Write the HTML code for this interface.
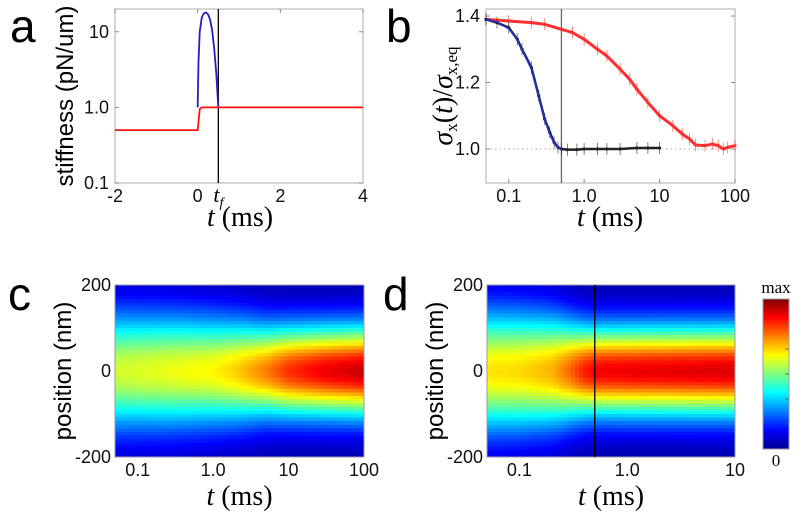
<!DOCTYPE html>
<html><head><meta charset="utf-8"><style>
html,body{margin:0;padding:0;background:#fff;}
svg{display:block;font-family:"Liberation Sans",Arial,sans-serif;}
.tk{font-size:18px;fill:#111;}
.pl{font-size:46px;fill:#000;}
.ser{font-family:"Liberation Serif",serif;}
</style></head><body>
<svg id="fig" width="800" height="518" viewBox="0 0 800 518">
<defs>
<linearGradient id="jetg" x1="0" y1="1" x2="0" y2="0">
<stop offset="0" stop-color="#00008f"/><stop offset="0.125" stop-color="#0000ff"/><stop offset="0.375" stop-color="#00ffff"/><stop offset="0.625" stop-color="#ffff00"/><stop offset="0.875" stop-color="#ff0000"/><stop offset="1" stop-color="#800000"/>
</linearGradient>
</defs>
<g id="pa"></g>
<g id="pb"></g>
<g id="pc"></g>
<g id="pd"></g>
<text class="pl" x="10" y="42">a</text>
<text class="pl" x="386" y="42">b</text>
<text class="pl" x="8" y="310">c</text>
<text class="pl" x="383" y="310">d</text>
</svg>
<script>
// Panel a data
const aRedT=[-2,0,0.05,0.1,0.5,4];
const aRedV=[0.5,0.5,0.95,1.0,1.0,1.0];
const aBlueT=[0,0.02,0.05,0.1,0.15,0.2,0.25,0.3,0.35,0.4,0.45,0.5];
const aBlueV=[1.0,4,10,15.5,17.5,18,17,14.5,10.5,6,2.8,1.0];
const aXTicks=[-2,0,2,4];
const aYTicks=[0.1,1,10];
const aYLabels=["0.1","1.0","10"];
// Panel b data
const bBlackT=[0.05,0.07,0.1,0.13,0.15,0.2,0.25,0.3,0.35,0.4,0.45,0.5,0.6,0.8,1,1.5,2,3,5,7,10];
const bBlackV=[1.39,1.38,1.365,1.33,1.30,1.245,1.16,1.09,1.05,1.02,1.005,1.0,0.998,0.998,1.0,1.0,1.0,1.0,1.003,1.003,1.003];
const bFitT=[0.05,0.07,0.1,0.13,0.15,0.2,0.25,0.3,0.35,0.4,0.45,0.5];
const bFitV=[1.39,1.382,1.362,1.33,1.30,1.24,1.16,1.09,1.045,1.018,1.005,1.0];
const bRedT=[0.05,0.1,0.2,0.3,0.5,0.7,1,1.5,2,3,4,5,7,10,15,20,25,30,40,50,60,70,80,100];
const bRedV=[1.39,1.385,1.38,1.375,1.36,1.35,1.33,1.30,1.28,1.24,1.21,1.18,1.14,1.10,1.07,1.045,1.03,1.012,1.01,1.015,1.01,1.0,1.005,1.01];
const bXTicks=[0.1,1,10,100];
const bXLabels=["0.1","1.0","10","100"];
const bYTicks=[1.0,1.2,1.4];
const bYLabels=["1.0","1.2","1.4"];
// Panel c heatmap data
const cTimes=[0.05,0.1,0.3,1,2,5,10,30,100];
const cPeak=[0.55,0.56,0.58,0.6,0.64,0.72,0.8,0.86,0.9];
const cWidth=[95,94,92,88,84,76,74,73,73];
// Panel d heatmap data
const dTimes=[0.05,0.1,0.2,0.3,0.4,0.5,1,10];
const dPeak=[0.62,0.63,0.67,0.75,0.82,0.85,0.86,0.88];
const dWidth=[98,96,90,80,74,72,72,72];
const hmXLabelsC=["0.1","1.0","10","100"];
const hmXTicksC=[0.1,1,10,100];
const hmXLabelsD=["0.1","1.0","10"];
const hmXTicksD=[0.1,1,10];

const NS="http://www.w3.org/2000/svg";
function mk(p,tag,at,txt){const e=document.createElementNS(NS,tag);for(const k in at)e.setAttribute(k,at[k]);if(txt!==undefined)e.textContent=txt;p.appendChild(e);return e;}
const L=Math.log10;
function jet(v){const c=x=>Math.round(255*Math.max(0,Math.min(1,x)));return `rgb(${c(1.5-Math.abs(4*v-3))},${c(1.5-Math.abs(4*v-2))},${c(1.5-Math.abs(4*v-1))})`;}
function interp(ts,vs,t){const lt=L(t);if(t<=ts[0])return vs[0];for(let i=1;i<ts.length;i++){if(t<=ts[i]){const f=(lt-L(ts[i-1]))/(L(ts[i])-L(ts[i-1]));return vs[i-1]+f*(vs[i]-vs[i-1]);}}return vs[vs.length-1];}

// ---------- Panel a ----------
(function(){
const g=document.getElementById('pa');
const X0=115,X1=363,Y0=9,Y1=183;
const sx=t=>X0+(t+2)/6*(X1-X0);
const sy=v=>Y1-(L(v)+1)/(L(20)+1)*(Y1-Y0);
let b=mk(g,'rect',{x:X0,y:Y0,width:X1-X0,height:Y1-Y0,fill:'none',stroke:'#bbb','stroke-width':1.2});

aYTicks.forEach((v,i)=>{const y=sy(v);
 let t=mk(g,'text',{x:X0-6,y:y+6,'text-anchor':'end',class:'tk'},aYLabels[i]);
 
 mk(g,'line',{x1:X0,x2:X0+4,y1:y,y2:y,stroke:'#888'});mk(g,'line',{x1:X1-4,x2:X1,y1:y,y2:y,stroke:'#888'});});
aXTicks.forEach(v=>{const x=sx(v);
 let t=mk(g,'text',{x:x,y:202,'text-anchor':'middle',class:'tk'},String(v));
 
 mk(g,'line',{x1:x,x2:x,y1:Y0,y2:Y0+4,stroke:'#888'});});
let tf=mk(g,'text',{x:sx(0.5),y:202,'text-anchor':'middle',class:'ser','font-size':22,'font-style':'italic'});
tf.innerHTML='t<tspan font-size="14" dy="5">f</tspan>';

let vl=mk(g,'line',{x1:sx(0.5),x2:sx(0.5),y1:Y0,y2:Y1,stroke:'#000','stroke-width':1.3});

let bp=mk(g,'polyline',{points:aBlueT.map((t,i)=>sx(t)+','+sy(aBlueV[i])).join(' '),fill:'none',stroke:'#2020c0','stroke-width':1.8});

let rp=mk(g,'polyline',{points:aRedT.map((t,i)=>sx(t)+','+sy(aRedV[i])).join(' '),fill:'none',stroke:'#ff1010','stroke-width':1.8});

let yl=mk(g,'text',{x:0,y:0,transform:'translate(73,96) rotate(-90)','text-anchor':'middle','font-size':24},'stiffness (pN/um)');

let xl=mk(g,'text',{x:240,y:226,'text-anchor':'middle',class:'ser','font-size':28});
xl.innerHTML='<tspan font-style="italic">t</tspan>&#160;(ms)';

})();

// ---------- Panel b ----------
(function(){
const g=document.getElementById('pb');
const X0=486,X1=735,Y0=9,Y1=183;
const sx=t=>X0+(L(t)-L(0.05))/(L(100)-L(0.05))*(X1-X0);
const sy=v=>16+(1.4-v)*332.5;
let b=mk(g,'rect',{x:X0,y:Y0,width:X1-X0,height:Y1-Y0,fill:'none',stroke:'#bbb','stroke-width':1.2});

let rl=mk(g,'line',{x1:X0,x2:X1,y1:sy(1),y2:sy(1),stroke:'#aaa','stroke-dasharray':'1.5,3'});

bYTicks.forEach((v,i)=>{const y=sy(v);
 let t=mk(g,'text',{x:X0-6,y:y+6,'text-anchor':'end',class:'tk'},bYLabels[i]);
 
 mk(g,'line',{x1:X0,x2:X0+4,y1:y,y2:y,stroke:'#888'});mk(g,'line',{x1:X1-4,x2:X1,y1:y,y2:y,stroke:'#888'});});
bXTicks.forEach((v,i)=>{const x=sx(v);
 let t=mk(g,'text',{x:x,y:202,'text-anchor':'middle',class:'tk'},bXLabels[i]);
 
 mk(g,'line',{x1:x,x2:x,y1:Y1-4,y2:Y1,stroke:'#888'});});
let vl=mk(g,'line',{x1:sx(0.5),x2:sx(0.5),y1:Y0,y2:Y1,stroke:'#666','stroke-width':1.3});

function series(T,V,col,name,w){
 let p=mk(g,'polyline',{points:T.map((t,i)=>sx(t)+','+sy(V[i])).join(' '),fill:'none',stroke:col,'stroke-width':w});
 
 T.forEach((t,i)=>{const x=sx(t),y=sy(V[i]);
  let e=mk(g,'line',{x1:x,x2:x,y1:y-6,y2:y+6,stroke:col,'stroke-width':0.8,opacity:0.7});
  
  let c=mk(g,'circle',{cx:x,cy:y,r:1.6,fill:col});
  });
}
series(bRedT,bRedV,'#ff3030','red-data',3);
series(bBlackT,bBlackV,'#222','black-data',2.5);
let fp=mk(g,'polyline',{points:bFitT.map((t,i)=>sx(t)+','+sy(bFitV[i])).join(' '),fill:'none',stroke:'#2030d0','stroke-width':1.6});

let yl=mk(g,'text',{x:0,y:0,transform:'translate(452,96) rotate(-90)','text-anchor':'middle',class:'ser','font-size':28});
yl.innerHTML='<tspan font-style="italic">σ</tspan><tspan font-size="17" dy="5">x</tspan><tspan dy="-5">(</tspan><tspan font-style="italic">t</tspan>)/<tspan font-style="italic">σ</tspan><tspan font-size="17" dy="5">x,eq</tspan>';

let xl=mk(g,'text',{x:610,y:226,'text-anchor':'middle',class:'ser','font-size':28});
xl.innerHTML='<tspan font-style="italic">t</tspan>&#160;(ms)';

})();

// ---------- Heatmaps ----------
function heat(gid,X0,X1,tmax,times,peak,width,ticks,labels,vline){
const g=document.getElementById(gid);
const Y0=285,Y1=457;
const sx=t=>X0+(L(t)-L(0.05))/(L(tmax)-L(0.05))*(X1-X0);
const sy=p=>Y0+(200-p)/400*(Y1-Y0);
const NC=62,NR=48,cw=(X1-X0)/NC,rh=(Y1-Y0)/NR;
const cells=mk(g,'g',{'shape-rendering':'crispEdges'});

for(let i=0;i<NC;i++){
 const t=Math.pow(10,L(0.05)+(i+0.5)/NC*(L(tmax)-L(0.05)));
 const pk=interp(times,peak,t),s=interp(times,width,t);
 for(let j=0;j<NR;j++){
  const pos=200-(j+0.5)*400/NR;
  const v=0.03+pk*Math.exp(-pos*pos/(2*s*s));
  const r=mk(cells,'rect',{x:(X0+i*cw).toFixed(2),y:(Y0+j*rh).toFixed(2),width:(cw+0.6).toFixed(2),height:(rh+0.6).toFixed(2),fill:jet(v)});
  
  
 }}
let b=mk(g,'rect',{x:X0,y:Y0,width:X1-X0,height:Y1-Y0,fill:'none',stroke:'#99a','stroke-width':1});

[[200,'200'],[0,'0'],[-200,'-200']].forEach(([p,l])=>{
 let t=mk(g,'text',{x:X0-4,y:sy(p)+6,'text-anchor':'end',class:'tk'},l);
 });
ticks.forEach((v,i)=>{
 let t=mk(g,'text',{x:sx(v),y:476,'text-anchor':'middle',class:'tk'},labels[i]);
 });
if(vline){let vl=mk(g,'line',{x1:sx(vline),x2:sx(vline),y1:Y0,y2:Y1,stroke:'#000','stroke-width':1.3});
 }
let yl=mk(g,'text',{x:0,y:0,transform:`translate(${X0-44},371) rotate(-90)`,'text-anchor':'middle','font-size':24},'position (nm)');

let xl=mk(g,'text',{x:(X0+X1)/2,y:505,'text-anchor':'middle',class:'ser','font-size':28});
xl.innerHTML='<tspan font-style="italic">t</tspan>&#160;(ms)';

}
heat('pc',115,364,100,cTimes,cPeak,cWidth,hmXTicksC,hmXLabelsC,null);
heat('pd',487,735,10,dTimes,dPeak,dWidth,hmXTicksD,hmXLabelsD,0.5);

// colorbar
(function(){
const g=document.getElementById('pd');
let cb=mk(g,'rect',{x:763,y:299,width:26,height:150,fill:'url(#jetg)',stroke:'#99a','stroke-width':1});

for(let k=1;k<6;k++){const y=449-k*25;mk(g,'line',{x1:785,x2:789,y1:y,y2:y,stroke:'#555','stroke-width':0.8});}
let m=mk(g,'text',{x:776,y:293,'text-anchor':'middle',class:'ser','font-size':17},'max');

let z=mk(g,'text',{x:776,y:466,'text-anchor':'middle',class:'ser','font-size':17},'0');

})();
</script>
</body></html>
